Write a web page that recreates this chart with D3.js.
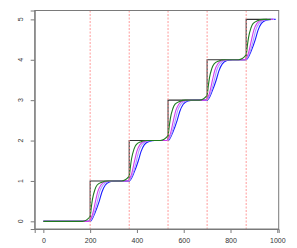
<!DOCTYPE html>
<html>
<head>
<meta charset="utf-8">
<script src="https://cdn.jsdelivr.net/npm/d3@7"></script>
<style>
  body { margin: 0; background: #fff; }
  svg { display: block; font-family: "Liberation Sans", Arial, sans-serif; }
</style>
</head>
<body>
<svg id="chart" width="297" height="248"></svg>
<script>
// step positions (red dashed lines)
const stepX = [200, 367, 533, 700, 867];

const xTicks = [0, 200, 400, 600, 800, 1000];
const yTicks = [0, 1, 2, 3, 4, 5];

// target step function
const blackX = [0, 200, 367, 533, 700, 867, 957];
const blackY = [0, 1, 2, 3, 4, 5, 5];

// leading response (green)
const greenX = [0, 167, 200, 205, 210, 220, 230, 250, 275,
  334, 367, 372, 377, 387, 397, 417, 442,
  500, 533, 538, 543, 553, 563, 583, 608,
  667, 700, 705, 710, 720, 730, 750, 775,
  834, 867, 872, 877, 887, 897, 917, 942, 972];
const greenY = [0, 0, 0.12, 0.35, 0.55, 0.78, 0.9, 0.97, 1,
  1, 1.12, 1.35, 1.55, 1.78, 1.9, 1.97, 2,
  2, 2.12, 2.35, 2.55, 2.78, 2.9, 2.97, 3,
  3, 3.12, 3.35, 3.55, 3.78, 3.9, 3.97, 4,
  4, 4.12, 4.35, 4.55, 4.78, 4.9, 4.97, 5, 5];

// magenta response
const magX = [0, 195, 200, 210, 223, 233, 246, 265, 290,
  362, 367, 377, 390, 400, 413, 432, 457,
  528, 533, 543, 556, 566, 579, 598, 623,
  695, 700, 710, 723, 733, 746, 765, 790,
  862, 867, 877, 890, 900, 913, 932, 957, 982];
const magY = [0, 0, 0.04, 0.17, 0.5, 0.74, 0.9, 0.98, 1,
  1, 1.04, 1.17, 1.5, 1.74, 1.9, 1.98, 2,
  2, 2.04, 2.17, 2.5, 2.74, 2.9, 2.98, 3,
  3, 3.04, 3.17, 3.5, 3.74, 3.9, 3.98, 4,
  4, 4.04, 4.17, 4.5, 4.74, 4.9, 4.98, 5, 5];

// light violet response
const lavX = [0, 198, 205, 215, 231, 241, 255, 275, 300,
  365, 372, 382, 398, 408, 422, 442, 467,
  531, 538, 548, 564, 574, 588, 608, 633,
  698, 705, 715, 731, 741, 755, 775, 800,
  865, 872, 882, 898, 908, 922, 942, 967, 987];
const lavY = [0, 0, 0.05, 0.17, 0.5, 0.74, 0.9, 0.98, 1,
  1, 1.05, 1.17, 1.5, 1.74, 1.9, 1.98, 2,
  2, 2.05, 2.17, 2.5, 2.74, 2.9, 2.98, 3,
  3, 3.05, 3.17, 3.5, 3.74, 3.9, 3.98, 4,
  4, 4.05, 4.17, 4.5, 4.74, 4.9, 4.98, 5, 5];

// lagging response (blue)
const blueX = [0, 200, 208, 220, 239, 250, 265, 285, 310,
  367, 375, 387, 406, 417, 432, 452, 477,
  533, 541, 553, 572, 583, 598, 618, 643,
  700, 708, 720, 739, 750, 765, 785, 810,
  867, 875, 887, 906, 917, 932, 952, 977, 993];
const blueY = [0, 0, 0.05, 0.2, 0.5, 0.72, 0.9, 0.98, 1,
  1, 1.05, 1.2, 1.5, 1.72, 1.9, 1.98, 2,
  2, 2.05, 2.2, 2.5, 2.72, 2.9, 2.98, 3,
  3, 3.05, 3.2, 3.5, 3.72, 3.9, 3.98, 4,
  4, 4.05, 4.2, 4.5, 4.72, 4.9, 4.98, 5, 5];

const svg = d3.select("#chart");
const plotL = 34.7, plotR = 278.7, plotT = 10.5, plotB = 229;

const x = d3.scaleLinear().domain([-37, 1006]).range([plotL, plotR]);
const y = d3.scaleLinear().domain([-0.19, 5.22]).range([plotB, plotT]);

const zip = (xs, ys) => xs.map((v, i) => [v, ys[i]]);

const line = d3.line()
  .x(d => x(d[0]))
  .y(d => y(d[1]))
  .curve(d3.curveMonotoneX);

const stepLine = d3.line()
  .x(d => x(d[0]))
  .y(d => y(d[1]))
  .curve(d3.curveStepAfter);

const gLines = svg.append("g").attr("fill", "none").attr("stroke-width", 1.1);

gLines.append("path")
  .datum(zip(blackX, blackY))
  .attr("stroke", "#333")
  .attr("d", stepLine);

const series = [
  { xs: greenX, ys: greenY, color: "#1f7a1f" },
  { xs: magX, ys: magY, color: "#d23cf0" },
  { xs: lavX, ys: lavY, color: "#a9a2ff" },
  { xs: blueX, ys: blueY, color: "#1a1aff" }
];

// draw lagging curves first so green sits on top
series.slice().reverse().forEach(s => {
  gLines.append("path")
    .datum(zip(s.xs, s.ys))
    .attr("stroke", s.color)
    .attr("d", line);
});

svg.append("g")
  .attr("stroke", "#ff8f8f")
  .attr("stroke-width", 0.9)
  .attr("stroke-dasharray", "2,1.5")
  .selectAll("line")
  .data(stepX)
  .enter().append("line")
  .attr("x1", d => x(d))
  .attr("x2", d => x(d))
  .attr("y1", plotT)
  .attr("y2", plotB);

// plot box
svg.append("rect")
  .attr("x", plotL)
  .attr("y", plotT)
  .attr("width", plotR - plotL)
  .attr("height", plotB - plotT)
  .attr("fill", "none")
  .attr("stroke", "#7a7a7a")
  .attr("stroke-width", 1);

const xAxis = svg.append("g")
  .attr("transform", "translate(0," + plotB + ")")
  .call(d3.axisBottom(x).tickValues(xTicks).tickSize(4).tickPadding(5).tickFormat(d3.format("d")));

const yAxis = svg.append("g")
  .attr("transform", "translate(" + plotL + ",0)")
  .call(d3.axisLeft(y).tickValues(yTicks).tickSize(4).tickFormat(""));

[xAxis, yAxis].forEach(a => {
  a.select(".domain").attr("stroke", "#7a7a7a");
  a.selectAll(".tick line").attr("stroke", "#7a7a7a");
});

xAxis.selectAll("text")
  .attr("fill", "#333")
  .style("font-size", "7px")
  .style("font-family", "'Liberation Sans', Arial, sans-serif");

// rotated y labels, R style
svg.append("g")
  .selectAll("text")
  .data(yTicks)
  .enter().append("text")
  .attr("transform", d => "translate(21," + y(d) + ") rotate(-90)")
  .attr("text-anchor", "middle")
  .attr("dy", "0.35em")
  .attr("fill", "#333")
  .style("font-size", "7px")
  .text(d => d);
</script>
</body>
</html>
